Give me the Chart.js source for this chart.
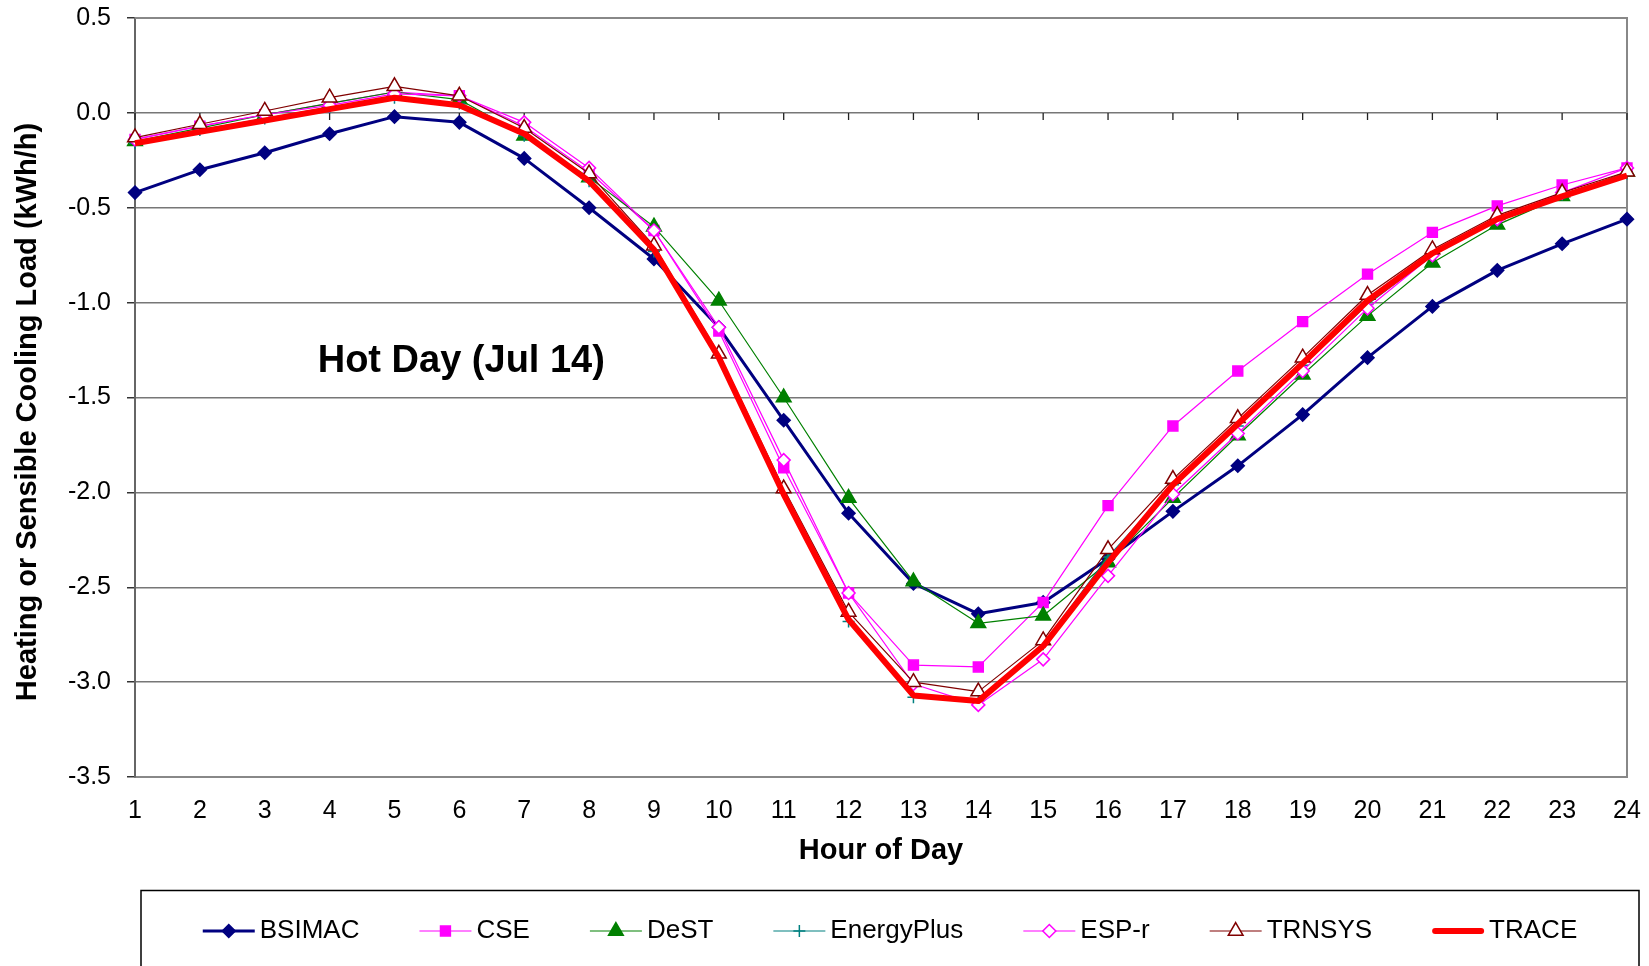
<!DOCTYPE html>
<html>
<head>
	<meta charset="UTF-8">
	<title>Hot Day (Jul 14)</title>
	<script src="https://cdn.jsdelivr.net/npm/chart.js@4.4.0/dist/chart.umd.min.js"></script>
	<style>
		body { margin:0; padding:0; overflow:hidden; background:#fff; }
		canvas { display:block; }
	</style>
</head>
<body>
	<canvas id="chart" width="1649" height="966"></canvas>
	<script>
		const hours = ['1','2','3','4','5','6','7','8','9','10','11','12','13','14','15','16','17','18','19','20','21','22','23','24'];

		// hourly heating (+) / sensible cooling (-) load, kWh/h
		const bsimac     = [-0.42,-0.30,-0.21,-0.11,-0.02,-0.05,-0.24,-0.50,-0.77,-1.13,-1.62,-2.11,-2.48,-2.64,-2.58,-2.35,-2.10,-1.86,-1.59,-1.29,-1.02,-0.83,-0.69,-0.56];
		const cse        = [-0.14,-0.07,-0.01, 0.05, 0.11, 0.09,-0.07,-0.31,-0.62,-1.15,-1.87,-2.53,-2.91,-2.92,-2.58,-2.07,-1.65,-1.36,-1.10,-0.85,-0.63,-0.49,-0.38,-0.29];
		const dest       = [-0.15,-0.08,-0.01, 0.05, 0.11, 0.07,-0.12,-0.34,-0.60,-0.99,-1.50,-2.03,-2.47,-2.69,-2.65,-2.37,-2.03,-1.70,-1.38,-1.07,-0.79,-0.59,-0.44,-0.31];
		const energyPlus = [-0.16,-0.09,-0.03, 0.03, 0.08, 0.05,-0.12,-0.36,-0.73,-1.28,-2.00,-2.68,-3.08,-3.10,-2.80,-2.34,-1.96,-1.65,-1.33,-1.01,-0.75,-0.56,-0.43,-0.32];
		const espr       = [-0.14,-0.07,-0.01, 0.04, 0.10, 0.09,-0.05,-0.29,-0.62,-1.13,-1.83,-2.53,-3.01,-3.12,-2.88,-2.44,-2.01,-1.69,-1.36,-1.03,-0.75,-0.56,-0.42,-0.29];
		const trnsys     = [-0.13,-0.06, 0.01, 0.08, 0.14, 0.09,-0.08,-0.32,-0.70,-1.27,-1.98,-2.63,-3.00,-3.05,-2.78,-2.30,-1.93,-1.61,-1.29,-0.96,-0.72,-0.54,-0.42,-0.31];
		const trace      = [-0.16,-0.10,-0.04, 0.02, 0.08, 0.04,-0.11,-0.36,-0.72,-1.29,-2.01,-2.67,-3.07,-3.10,-2.81,-2.37,-1.96,-1.64,-1.32,-0.99,-0.74,-0.56,-0.44,-0.33];

		const yTicks = [0.5, 0.0, -0.5, -1.0, -1.5, -2.0, -2.5, -3.0, -3.5];

		const FONT = "'Liberation Sans', Arial, sans-serif";
		Chart.defaults.font.family = FONT;
		Chart.defaults.color = '#000';

		function line(label, data, color, width, style, radius, fill, order) {
			return {
				label: label,
				data: data,
				borderColor: color,
				backgroundColor: color,
				borderWidth: width,
				borderJoinStyle: 'round',
				pointStyle: style,
				pointRadius: radius,
				pointBackgroundColor: fill,
				pointBorderColor: color,
				pointBorderWidth: 1.5,
				clip: false,
				order: order
			};
		}

		// frame on top/right and small hour ticks on the zero line
		const framePlugin = {
			id: 'frame',
			beforeDatasetsDraw(chart) {
				const ctx = chart.ctx, a = chart.chartArea;
				const x = chart.scales.x, y = chart.scales.y;
				ctx.save();
				ctx.strokeStyle = '#888';
				ctx.lineWidth = 2;
				ctx.beginPath();
				ctx.moveTo(a.left, a.top);
				ctx.lineTo(a.right, a.top);
				ctx.lineTo(a.right, a.bottom);
				ctx.stroke();
				const y0 = y.getPixelForValue(0);
				ctx.strokeStyle = '#222';
				ctx.lineWidth = 1.3;
				ctx.beginPath();
				hours.forEach((h, i) => {
					const px = x.getPixelForValue(i);
					ctx.moveTo(px, y0);
					ctx.lineTo(px, y0 + 7);
				});
				ctx.stroke();
				ctx.restore();
			}
		};

		// y title, day caption and the boxed legend
		const textPlugin = {
			id: 'texts',
			afterDraw(chart) {
				const ctx = chart.ctx;
				const x = chart.scales.x, y = chart.scales.y;
				ctx.save();

				ctx.fillStyle = '#000';
				ctx.font = 'bold 29px ' + FONT;
				ctx.textAlign = 'center';
				ctx.textBaseline = 'middle';
				ctx.translate(28, 412);
				ctx.rotate(-Math.PI / 2);
				ctx.fillText('Heating or Sensible Cooling Load (kWh/h)', 0, 0);
				ctx.setTransform(1, 0, 0, 1, 0, 0);

				ctx.font = 'bold 38px ' + FONT;
				ctx.textBaseline = 'alphabetic';
				ctx.fillText('Hot Day (Jul 14)', x.getPixelForValue(5.03), y.getPixelForValue(-1.365));

				// legend
				const box = { left: 141, top: 890.5, right: 1639 };
				ctx.strokeStyle = '#000';
				ctx.lineWidth = 1.5;
				ctx.beginPath();
				ctx.moveTo(box.left, chart.height + 2);
				ctx.lineTo(box.left, box.top);
				ctx.lineTo(box.right, box.top);
				ctx.lineTo(box.right, chart.height + 2);
				ctx.stroke();

				ctx.font = '26px ' + FONT;
				const sample = 52, gap = 60, ly = 931;
				const sets = chart.data.datasets;
				const widths = sets.map(ds => sample + 5 + ctx.measureText(ds.label).width);
				const total = widths.reduce((s, w) => s + w, 0) + gap * (sets.length - 1);
				let cx = (box.left + box.right) / 2 - total / 2;
				sets.forEach((ds, i) => {
					ctx.strokeStyle = ds.borderColor;
					ctx.lineWidth = ds.borderWidth;
					ctx.lineCap = ds.borderWidth > 3 ? 'round' : 'butt';
					ctx.beginPath();
					ctx.moveTo(cx + (ctx.lineCap === 'round' ? 3 : 0), ly);
					ctx.lineTo(cx + sample - (ctx.lineCap === 'round' ? 3 : 0), ly);
					ctx.stroke();
					if (ds.pointRadius > 0) {
						ctx.fillStyle = ds.pointBackgroundColor;
						ctx.strokeStyle = ds.pointBorderColor;
						ctx.lineWidth = ds.pointBorderWidth;
						Chart.helpers.drawPoint(ctx, {
							pointStyle: ds.pointStyle,
							radius: ds.pointRadius,
							rotation: 0,
							borderWidth: ds.pointBorderWidth
						}, cx + sample / 2, ly);
					}
					ctx.fillStyle = '#000';
					ctx.textAlign = 'left';
					ctx.textBaseline = 'middle';
					ctx.fillText(ds.label, cx + sample + 5, ly);
					cx += widths[i] + gap;
				});
				ctx.restore();
			}
		};

		const ctx = document.getElementById('chart').getContext('2d');
		const myChart = new Chart(ctx, {
			type: 'line',
			data: {
				labels: hours,
				datasets: [
					line('BSIMAC', bsimac, '#000080', 3, 'rectRot', 6.5, '#000080', 6),
					line('CSE', cse, '#FF00FF', 1.2, 'rect', 7, '#FF00FF', 5),
					line('DeST', dest, '#008000', 1.2, 'triangle', 8.5, '#008000', 4),
					line('EnergyPlus', energyPlus, '#008080', 1.2, 'cross', 6, '#008080', 3),
					line('ESP-r', espr, '#FF00FF', 1.2, 'rectRot', 6.5, '#FFFFFF', 2),
					line('TRNSYS', trnsys, '#800000', 1.2, 'triangle', 8.5, '#FFFFFF', 1),
					line('TRACE', trace, '#FF0000', 6, 'circle', 0, '#FF0000', 0)
				]
			},
			options: {
				responsive: false,
				animation: false,
				events: [],
				devicePixelRatio: 1,
				layout: { padding: { left: 0, right: 22, top: 18, bottom: 98 } },
				plugins: {
					legend: { display: false },
					tooltip: { enabled: false }
				},
				scales: {
					x: {
						type: 'category',
						offset: false,
						grid: { display: false },
						border: { color: '#888', width: 2 },
						ticks: { font: { size: 25 }, padding: 11, autoSkip: false, maxRotation: 0 },
						title: {
							display: true,
							text: 'Hour of Day',
							font: { size: 29, weight: 'bold' },
							padding: { top: 0, bottom: 0 }
						},
						afterFit(scale) {
							scale.height = 91;
							scale.paddingLeft = 0;
							scale.paddingRight = 0;
						}
					},
					y: {
						min: -3.5,
						max: 0.5,
						afterBuildTicks(scale) { scale.ticks = yTicks.map(v => ({ value: v })); },
						grid: { color: '#777', lineWidth: 1.5, tickColor: '#333', tickLength: 8 },
						border: { color: '#666', width: 2 },
						ticks: { font: { size: 25 }, padding: 16, callback: v => v.toFixed(1) },
						afterFit(scale) {
							scale.width = 135;
							scale.paddingTop = 0;
							scale.paddingBottom = 0;
						}
					}
				}
			},
			plugins: [framePlugin, textPlugin]
		});
	</script>
</body>
</html>
